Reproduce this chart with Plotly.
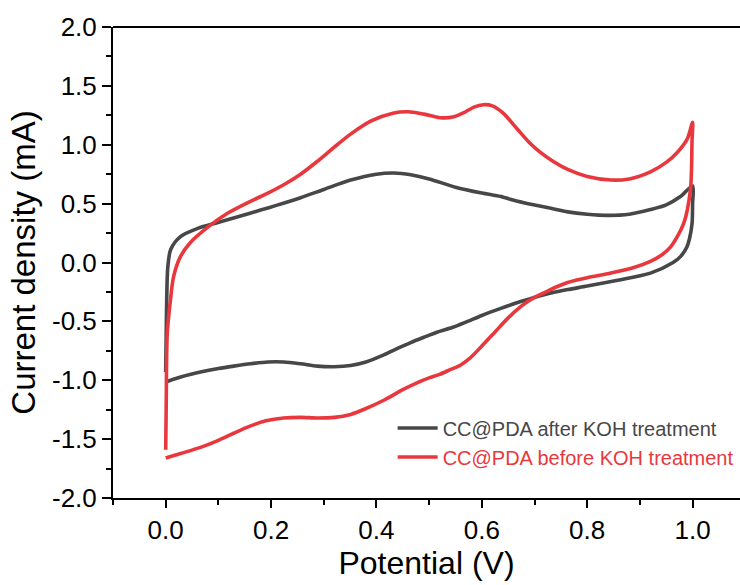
import plotly.graph_objects as go

# CC@PDA after KOH treatment (forward then reverse scan)
after_v = [0.0, 0.001, 0.002, 0.004, 0.0095, 0.028, 0.061, 0.099, 0.142, 0.18, 0.21, 0.256, 0.30, 0.351,
           0.40, 0.433, 0.465, 0.50, 0.55, 0.60, 0.636, 0.668, 0.698, 0.731, 0.763, 0.80, 0.839, 0.88, 0.92,
           0.95, 0.977, 1.0,
           1.0, 0.999, 0.994, 0.989, 0.977, 0.963, 0.92, 0.858, 0.80, 0.763, 0.731, 0.698, 0.668, 0.636,
           0.60, 0.573, 0.545, 0.516, 0.49, 0.465, 0.44, 0.414, 0.38, 0.351, 0.32, 0.288, 0.256, 0.224, 0.194,
           0.161, 0.129, 0.10, 0.066, 0.03, 0.003]
after_i = [-0.93, -0.6, -0.3, -0.04, 0.11, 0.22, 0.29, 0.34, 0.395, 0.445, 0.485, 0.55, 0.62, 0.70,
           0.75, 0.76, 0.745, 0.71, 0.64, 0.59, 0.56, 0.52, 0.49, 0.46, 0.43, 0.41, 0.40, 0.41, 0.45,
           0.49, 0.56, 0.65,
           0.50, 0.33, 0.20, 0.13, 0.05, 0.0, -0.09, -0.15, -0.20, -0.23, -0.26, -0.30, -0.34, -0.39,
           -0.45, -0.50, -0.55, -0.59, -0.635, -0.68, -0.73, -0.785, -0.845, -0.875, -0.885, -0.88, -0.86, -0.845,
           -0.845, -0.86, -0.88, -0.90, -0.93, -0.97, -1.01]

# CC@PDA before KOH treatment (forward then reverse scan)
before_v = [0.0, 0.001, 0.003, 0.009, 0.015, 0.028, 0.047, 0.08, 0.118, 0.161, 0.19, 0.224, 0.256, 0.288,
            0.32, 0.351, 0.389, 0.433, 0.46, 0.49, 0.52, 0.545, 0.565, 0.585, 0.603, 0.62, 0.64, 0.668,
            0.69, 0.71, 0.735, 0.763, 0.80, 0.845, 0.88, 0.92, 0.95, 0.97, 0.99, 1.0,
            0.999, 0.996, 0.983, 0.958, 0.94, 0.92, 0.89, 0.845, 0.80, 0.763, 0.74, 0.717, 0.698, 0.675,
            0.65, 0.625, 0.60, 0.578, 0.56, 0.54, 0.52, 0.50, 0.478, 0.45, 0.414, 0.38, 0.351, 0.32,
            0.288, 0.256, 0.224, 0.19, 0.16, 0.129, 0.10, 0.066, 0.03, 0.0]
before_i = [-1.59, -1.2, -0.6, -0.32, -0.12, 0.05, 0.17, 0.30, 0.42, 0.52, 0.58, 0.66, 0.75, 0.86,
            0.98, 1.09, 1.20, 1.27, 1.28, 1.26, 1.23, 1.235, 1.27, 1.32, 1.34, 1.33, 1.27, 1.13,
            1.02, 0.94, 0.86, 0.79, 0.73, 0.70, 0.71, 0.77, 0.85, 0.93, 1.05, 1.19,
            1.04, 0.62, 0.33, 0.13, 0.06, 0.01, -0.04, -0.09, -0.13, -0.17, -0.21, -0.26, -0.30, -0.37,
            -0.47, -0.59, -0.71, -0.81, -0.87, -0.91, -0.95, -0.98, -1.02, -1.08, -1.17, -1.24, -1.29, -1.315,
            -1.32, -1.315, -1.32, -1.345, -1.39, -1.45, -1.51, -1.57, -1.62, -1.66]

x_ticks = [0.0, 0.2, 0.4, 0.6, 0.8, 1.0]
y_ticks = [-2.0, -1.5, -1.0, -0.5, 0.0, 0.5, 1.0, 1.5, 2.0]

GRAY = "#474747"
RED = "#e8383d"
FONT = "Liberation Sans, Arial, sans-serif"

fig = go.Figure()
fig.add_trace(go.Scatter(x=after_v, y=after_i, mode="lines",
                         line=dict(color=GRAY, width=3.6, shape="spline", smoothing=0.8),
                         name=f"<span style='color:{GRAY}'>CC@PDA after KOH treatment</span>",
                         legendgroup="a"))
fig.add_trace(go.Scatter(x=before_v, y=before_i, mode="lines",
                         line=dict(color=RED, width=3.6, shape="spline", smoothing=0.8),
                         name=f"<span style='color:{RED}'>CC@PDA before KOH treatment</span>",
                         legendgroup="b"))

fig.update_layout(
    width=740, height=585,
    margin=dict(l=113, r=0, t=27, b=87),
    plot_bgcolor="white", paper_bgcolor="white",
    font=dict(family=FONT, color="black"),
    showlegend=True,
    legend=dict(x=0.446, y=0.19, xanchor="left", yanchor="top",
                bgcolor="rgba(0,0,0,0)", font=dict(size=20, family=FONT),
                tracegroupgap=0, itemwidth=40),
    xaxis=dict(range=[-0.1, 1.09], tickvals=x_ticks, ticktext=[f"{v:.1f}" for v in x_ticks],
               showline=True, linecolor="black", linewidth=2,
               ticks="outside", ticklen=8, tickwidth=2, tickcolor="black",
               minor=dict(dtick=0.1, tick0=0, ticks="outside", ticklen=5, tickwidth=2, tickcolor="black"),
               showgrid=False, zeroline=False,
               tickfont=dict(size=26, family=FONT),
               title=dict(text="Potential (V)", font=dict(size=32, family=FONT), standoff=4)),
    yaxis=dict(range=[-2.0, 2.0], tickvals=y_ticks, ticktext=[f"{v:.1f}" for v in y_ticks],
               showline=True, linecolor="black", linewidth=2,
               ticks="outside", ticklen=9, tickwidth=2, tickcolor="black",
               minor=dict(dtick=0.25, tick0=0, ticks="outside", ticklen=5, tickwidth=2, tickcolor="black"),
               showgrid=False, zeroline=False,
               tickfont=dict(size=26, family=FONT),
               title=dict(text="Current density (mA)", font=dict(size=33, family=FONT), standoff=6)),
)
fig.add_shape(type="line", xref="paper", yref="paper", x0=0, x1=1, y0=1, y1=1,
              line=dict(color="black", width=2))

fig.write_html("out.html")
